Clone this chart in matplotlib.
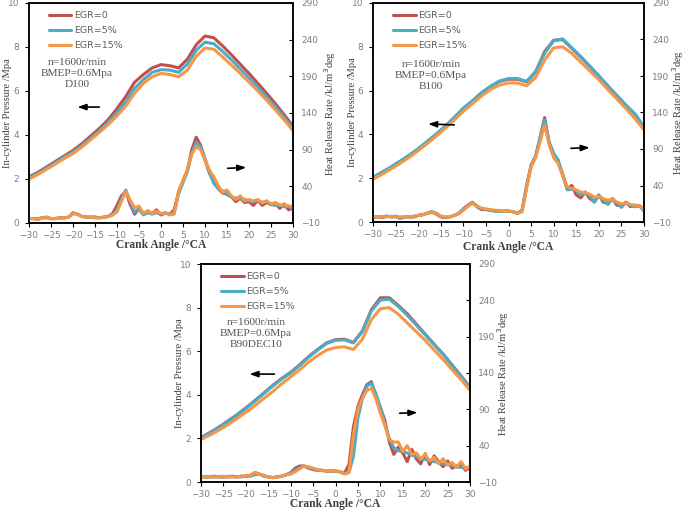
import numpy as np
import matplotlib.pyplot as plt

# crank angle grids
ca_p = np.arange(-30, 31, 2)      # pressure sampled every 2 deg
ca_h = np.arange(-30, 31, 1)      # heat release sampled every 1 deg

labels = ['EGR=0', 'EGR=5%', 'EGR=15%']
colors = ['#c0504d', '#4bacc6', '#f79646']

# ---------------- D100 ----------------
d100_p0 = [2.10, 2.30, 2.55, 2.80, 3.05, 3.30, 3.60, 3.95, 4.30, 4.70, 5.20, 5.75, 6.40, 6.75, 7.05, 7.20,
           7.15, 7.05, 7.45, 8.10, 8.50, 8.42, 8.05, 7.65, 7.22, 6.80, 6.35, 5.90, 5.42, 4.92, 4.40]
d100_p5 = [2.05, 2.25, 2.50, 2.75, 3.00, 3.22, 3.52, 3.85, 4.20, 4.58, 5.02, 5.52, 6.12, 6.52, 6.85, 6.97,
           6.95, 6.85, 7.22, 7.85, 8.22, 8.15, 7.80, 7.42, 7.00, 6.60, 6.18, 5.74, 5.28, 4.80, 4.30]
d100_p15 = [2.00, 2.20, 2.44, 2.68, 2.93, 3.15, 3.45, 3.78, 4.12, 4.47, 4.87, 5.32, 5.90, 6.35, 6.65, 6.80,
            6.75, 6.65, 6.95, 7.58, 7.95, 7.90, 7.55, 7.18, 6.80, 6.40, 6.00, 5.58, 5.14, 4.68, 4.20]
d100_h0 = [-4, -4, -5, -3, -2, -4, -4, -3, -3, -2,
           4, 2, -1, -2, -2, -2, -3, -2, -1, 3,
           14, 27, 33, 15, 2, 10, 3, 5, 3, 8,
           1, 4, 2, 8, 32, 48, 62, 90, 107, 96,
           76, 58, 46, 37, 31, 29, 26, 19, 24, 18,
           19, 14, 21, 14, 18, 15, 17, 10, 16, 8,
           10]
d100_h5 = [-4, -4, -4, -3, -3, -4, -4, -3, -3, -2,
           3, 2, -1, -2, -2, -2, -3, -2, -1, 1,
           8, 22, 35, 19, 5, 9, 1, 4, 2, 4,
           2, 3, 2, 4, 30, 45, 60, 85, 100, 94,
           78, 60, 44, 37, 34, 29, 25, 24, 23, 22,
           20, 19, 21, 18, 20, 15, 14, 15, 12, 13,
           9]
d100_h15 = [-4, -4, -5, -3, -2, -4, -4, -3, -3, -2,
            3, 2, -1, -2, -2, -3, -3, -2, -1, 1,
            5, 19, 33, 21, 11, 13, 3, 7, 3, 6,
            3, 4, 1, 2, 34, 48, 63, 84, 94, 90,
            76, 62, 53, 41, 32, 35, 27, 22, 27, 20,
            22, 20, 22, 17, 20, 16, 18, 14, 15, 13,
            13]

# ---------------- B100 ----------------
b100_p0 = [2.03, 2.26, 2.50, 2.76, 3.03, 3.33, 3.66, 4.00, 4.36, 4.76, 5.18, 5.52, 5.88, 6.18, 6.42, 6.52,
           6.52, 6.40, 6.85, 7.78, 8.30, 8.33, 7.93, 7.53, 7.10, 6.65, 6.20, 5.76, 5.32, 4.92, 4.32]
b100_p5 = [2.05, 2.28, 2.52, 2.78, 3.05, 3.35, 3.68, 4.02, 4.38, 4.78, 5.20, 5.53, 5.90, 6.20, 6.44, 6.55,
           6.55, 6.42, 6.87, 7.70, 8.28, 8.36, 7.96, 7.55, 7.12, 6.68, 6.22, 5.78, 5.34, 4.94, 4.33]
b100_p15 = [1.95, 2.18, 2.42, 2.68, 2.95, 3.25, 3.58, 3.92, 4.28, 4.66, 5.05, 5.40, 5.75, 6.05, 6.25, 6.35,
            6.35, 6.22, 6.60, 7.40, 7.95, 8.00, 7.70, 7.30, 6.90, 6.50, 6.05, 5.62, 5.18, 4.72, 4.20]
b100_h0 = [-3, -3, -4, -2, -3, -2, -5, -3, -3, -3,
           -1, 0, 2, 4, 1, -3, -4, -3, -1, 2,
           8, 13, 17, 11, 7, 7, 6, 5, 5, 5,
           5, 4, 2, 6, 40, 68, 80, 106, 133, 98,
           80, 72, 55, 36, 40, 27, 23, 31, 22, 18,
           27, 17, 16, 22, 13, 12, 17, 11, 13, 12,
           7]
b100_h5 = [-3, -3, -3, -2, -3, -3, -4, -3, -3, -3,
           -1, 0, 2, 4, 2, -2, -4, -3, -1, 2,
           7, 12, 17, 12, 8, 7, 6, 5, 5, 5,
           5, 4, 2, 5, 38, 66, 80, 105, 130, 100,
           84, 75, 55, 34, 35, 33, 27, 30, 26, 17,
           26, 20, 14, 22, 16, 10, 17, 13, 11, 12,
           5]
b100_h15 = [-3, -3, -3, -3, -2, -3, -3, -3, -3, -2,
            -1, 0, 2, 3, 2, -2, -3, -3, -1, 1,
            6, 11, 16, 12, 9, 8, 7, 6, 6, 5,
            5, 4, 2, 4, 36, 66, 78, 100, 123, 96,
            78, 70, 53, 38, 36, 34, 31, 30, 28, 24,
            25, 22, 20, 21, 17, 15, 16, 14, 13, 12,
            8]

# ---------------- B90DEC10 ----------------
b90_p0 = [2.04, 2.27, 2.52, 2.80, 3.08, 3.40, 3.73, 4.08, 4.43, 4.75, 5.03, 5.38, 5.75, 6.08, 6.38, 6.53,
          6.55, 6.40, 6.93, 7.90, 8.45, 8.45, 8.10, 7.72, 7.25, 6.78, 6.32, 5.87, 5.37, 4.87, 4.35]
b90_p5 = [2.02, 2.25, 2.50, 2.77, 3.05, 3.37, 3.70, 4.05, 4.40, 4.72, 5.00, 5.35, 5.72, 6.05, 6.35, 6.50,
          6.52, 6.38, 6.90, 7.85, 8.35, 8.38, 8.05, 7.65, 7.20, 6.75, 6.30, 5.85, 5.35, 4.85, 4.33]
b90_p15 = [1.95, 2.15, 2.38, 2.63, 2.90, 3.20, 3.50, 3.83, 4.15, 4.50, 4.82, 5.15, 5.50, 5.80, 6.05, 6.17,
           6.20, 6.08, 6.55, 7.45, 7.95, 8.00, 7.70, 7.30, 6.90, 6.50, 6.05, 5.62, 5.15, 4.70, 4.20]
b90_h0 = [-3, -3, -3, -2, -3, -3, -3, -2, -3, -2,
          -2, -1, 3, 1, -2, -3, -4, -3, -2, 0,
          3, 9, 12, 12, 9, 7, 6, 6, 5, 5,
          5, 4, 2, 14, 66, 94, 110, 124, 128, 107,
          93, 75, 45, 28, 38, 30, 18, 35, 22, 15,
          29, 14, 26, 18, 11, 19, 9, 12, 15, 6,
          10]
b90_h5 = [-3, -3, -3, -3, -3, -3, -2, -3, -3, -3,
          -2, -2, 0, 1, -1, -3, -4, -3, -2, 0,
          2, 6, 10, 12, 10, 8, 7, 6, 5, 5,
          5, 4, 2, 3, 25, 78, 105, 122, 126, 112,
          92, 70, 50, 37, 33, 32, 30, 27, 25, 22,
          21, 20, 18, 17, 15, 14, 13, 11, 10, 10,
          9]
b90_h15 = [-3, -3, -3, -3, -3, -2, -3, -3, -3, -2,
           -2, -1, 3, 1, -2, -3, -4, -3, -2, 0,
           1, 4, 8, 12, 11, 9, 7, 6, 5, 5,
           5, 4, 1, 3, 55, 90, 105, 116, 119, 105,
           85, 68, 48, 45, 45, 32, 40, 28, 30, 22,
           28, 19, 24, 15, 22, 13, 17, 10, 18, 8,
           12]

W, H = 685, 513
fig = plt.figure(figsize=(W / 100, H / 100), dpi=100)

serif = 'Liberation Serif'
tick_grey = '#7f7f7f'
text_grey = '#404040'


def panel(rect, pres, hrr, name, txt_xy, left_arrow, right_arrow, lab_pos):
    l, t, r, b = rect
    ax = fig.add_axes([l / W, 1 - b / H, (r - l) / W, (b - t) / H])
    ax2 = ax.twinx()
    lines = []
    for p, c, lab in zip(pres, colors, labels):
        ln, = ax.plot(ca_p, p, color=c, lw=2.2, label=lab, solid_capstyle='round')
        lines.append(ln)
    for h, c in zip(hrr, colors):
        ax2.plot(ca_h, h, color=c, lw=2.2, solid_capstyle='round')

    ax.set_xlim(-30, 30)
    ax.set_ylim(0, 10)
    ax2.set_ylim(-10, 290)
    ax.set_xticks(np.arange(-30, 31, 5))
    ax.set_yticks(np.arange(0, 11, 2))
    ax2.set_yticks(np.arange(-10, 291, 50))

    ax.tick_params(axis='x', direction='out', length=3, labelsize=6.5, labelcolor=tick_grey, pad=3)
    ax.tick_params(axis='y', direction='out', length=3, labelsize=6.5, labelcolor=tick_grey, pad=4)
    ax2.tick_params(axis='y', direction='in', length=3, labelsize=6.5, labelcolor=tick_grey, pad=6)
    for a in (ax, ax2):
        for s in a.spines.values():
            s.set_linewidth(1.1)

    # axis titles placed where the reference has them
    yl_x, yr_x, xl_y = lab_pos
    ax.set_xlabel('Crank Angle /°CA', family=serif, fontsize=8.3, fontweight='bold', color=text_grey)
    ax.set_ylabel('In-cylinder Pressure /Mpa', family=serif, fontsize=7.6, color=text_grey)
    ax2.set_ylabel('Heat Release Rate /kJ/m$^3$deg', family=serif, fontsize=7.6, color=text_grey)
    ax.xaxis.set_label_coords(0.5, xl_y)
    ax.xaxis.label.set_verticalalignment('center')
    ax.yaxis.set_label_coords(yl_x, 0.5)
    ax.yaxis.label.set_verticalalignment('center')
    ax2.yaxis.set_label_coords(yr_x, 0.5)
    ax2.yaxis.label.set_verticalalignment('center')

    ax.legend(handles=lines, loc='upper left', bbox_to_anchor=(0.06, 0.98), frameon=False,
              fontsize=6.8, labelcolor='#606060', handlelength=2.4, handletextpad=0.3,
              labelspacing=0.62, borderaxespad=0)

    ax.text(txt_xy[0], txt_xy[1], 'n=1600r/min\nBMEP=0.6Mpa\n' + name, family=serif,
            fontsize=8.2, color='#555555', ha='center', va='center', linespacing=1.3)

    arrow = dict(arrowstyle='-|>,head_length=0.5,head_width=0.18', color='black', lw=1.2)
    ax.annotate('', xy=left_arrow[1], xytext=left_arrow[0], arrowprops=arrow)
    ax.annotate('', xy=right_arrow[1], xytext=right_arrow[0], arrowprops=arrow)


panel((29, 3, 293, 223), [d100_p0, d100_p5, d100_p15], [d100_h0, d100_h5, d100_h15], 'D100',
      (-19.1, 6.8), ((-13.4, 5.27), (-19.6, 5.27)), ((14.5, 2.48), (20.0, 2.53)),
      (-0.083, 1.14, -0.10))
panel((373, 3, 644, 222), [b100_p0, b100_p5, b100_p15], [b100_h0, b100_h5, b100_h15], 'B100',
      (-17.2, 6.7), ((-11.4, 4.43), (-18.4, 4.48)), ((13.2, 3.36), (18.6, 3.40)),
      (-0.075, 1.125, -0.115))
panel((201, 264, 470, 482), [b90_p0, b90_p5, b90_p15], [b90_h0, b90_h5, b90_h15], 'B90DEC10',
      (-17.7, 6.83), ((-13.0, 4.95), (-19.8, 4.95)), ((13.7, 3.15), (18.9, 3.19)),
      (-0.08, 1.123, -0.10))

fig.savefig('out.png', dpi=100)
